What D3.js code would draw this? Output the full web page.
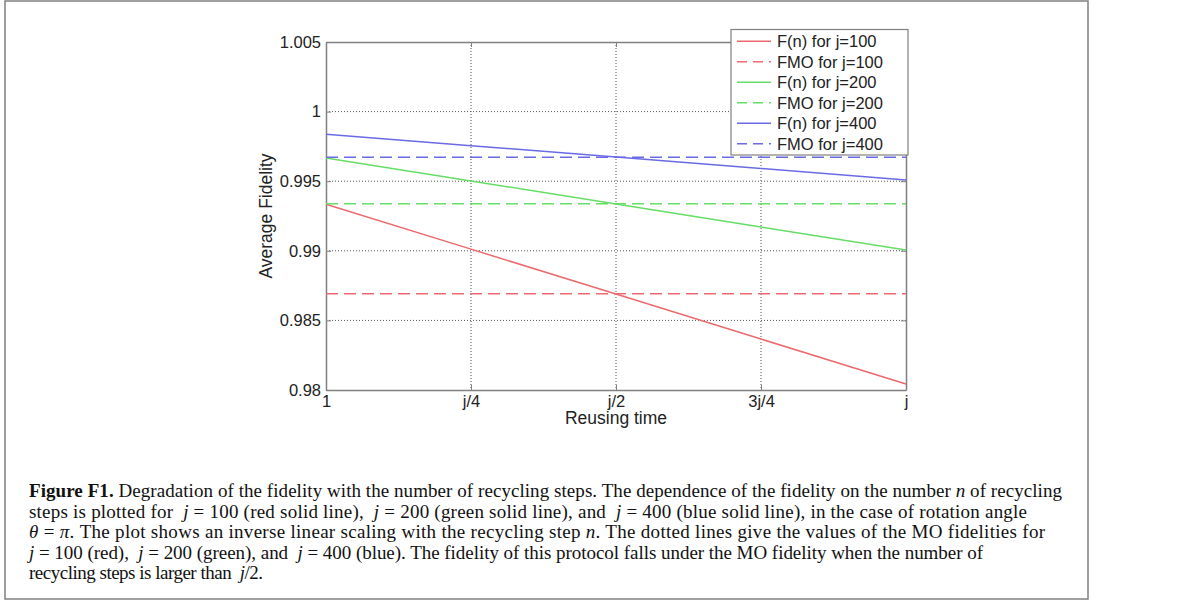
<!DOCTYPE html>
<html><head><meta charset="utf-8">
<script src="https://cdn.jsdelivr.net/npm/d3@7/dist/d3.min.js"></script>
<style>body{margin:0;background:#fff}svg{display:block}</style>
</head><body>
<script>
// ---- data ----
const xPositions = [0, 0.25, 0.5, 0.75, 1];
const xTickLabels = ["1", "j/4", "j/2", "3j/4", "j"];
const yTicks = [0.98, 0.985, 0.99, 0.995, 1, 1.005];
const yTickLabels = ["0.98", "0.985", "0.99", "0.995", "1", "1.005"];
const fn100 = [0.99335, 0.99012, 0.98689, 0.98366, 0.98043];
const fn200 = [0.99667, 0.99502, 0.99336, 0.99171, 0.99006];
const fn400 = [0.99837, 0.99755, 0.99673, 0.99591, 0.99509];
const fmo100 = [0.98692, 0.98692];
const fmo200 = [0.99338, 0.99338];
const fmo400 = [0.99672, 0.99672];
const fmoX = [0, 1];
const legendLabels = ["F(n) for j=100", "FMO for j=100", "F(n) for j=200", "FMO for j=200", "F(n) for j=400", "FMO for j=400"];

const W = 1179, H = 601;
const svg = d3.select("body").append("svg").attr("width", W).attr("height", H);

// outer frame
svg.append("rect").attr("x", 5).attr("y", 1).attr("width", 1083).attr("height", 598)
  .attr("fill", "none").attr("stroke", "#808080").attr("stroke-width", 1.5);

const L = 326, R = 906, T = 42, B = 390;
const x = d3.scaleLinear().domain([0, 1]).range([L, R]);
const y = d3.scaleLinear().domain([0.98, 1.005]).range([B, T]);

const g = svg.append("g");
// gridlines
g.selectAll(".gx").data(xPositions.slice(1, -1)).join("line")
  .attr("x1", d => x(d)).attr("x2", d => x(d)).attr("y1", T).attr("y2", B)
  .attr("stroke", "#555").attr("stroke-width", 1).attr("stroke-dasharray", "1,2");
g.selectAll(".gy").data(yTicks.slice(1, -1)).join("line")
  .attr("y1", d => y(d)).attr("y2", d => y(d)).attr("x1", L).attr("x2", R)
  .attr("stroke", "#555").attr("stroke-width", 1).attr("stroke-dasharray", "1,2");

// axes (MATLAB-like, inward ticks)
const fontAx = "'Liberation Sans', Arial, sans-serif";
const xAxis = d3.axisBottom(x).tickValues(xPositions).tickFormat((d, i) => xTickLabels[i]).tickSizeInner(-5).tickSizeOuter(0).tickPadding(8);
const yAxis = d3.axisLeft(y).tickValues(yTicks).tickFormat((d, i) => yTickLabels[i]).tickSizeInner(-5).tickSizeOuter(0).tickPadding(5);
const xa = svg.append("g").attr("transform", `translate(0,${B})`).call(xAxis);
const ya = svg.append("g").attr("transform", `translate(${L},0)`).call(yAxis);
const xt = svg.append("g").attr("transform", `translate(0,${T})`).call(d3.axisTop(x).tickValues(xPositions).tickFormat("").tickSizeInner(-5).tickSizeOuter(0));
const yr = svg.append("g").attr("transform", `translate(${R},0)`).call(d3.axisRight(y).tickValues(yTicks).tickFormat("").tickSizeInner(-5).tickSizeOuter(0));
[xa, ya, xt, yr].forEach(a => {
  a.select(".domain").attr("stroke", "#808080").attr("stroke-width", 1.5);
  a.selectAll(".tick line").attr("stroke", "#808080");
  a.selectAll("text").attr("font-family", fontAx).attr("font-size", 16.5).attr("fill", "#222");
});
xa.selectAll("text").attr("dy", "0.55em");

// axis titles
svg.append("text").attr("x", x(0.5)).attr("y", 424).attr("text-anchor", "middle")
  .attr("font-family", fontAx).attr("font-size", 17.5).attr("fill", "#222").text("Reusing time");
svg.append("text").attr("transform", `translate(272,${(T + B) / 2}) rotate(-90)`).attr("text-anchor", "middle")
  .attr("font-family", fontAx).attr("font-size", 17.5).attr("fill", "#222").text("Average Fidelity");

// series
const red = "#ec6a6f", green = "#66dd66", blue = "#6a6ae6";
const series = [
  { xs: xPositions, ys: fn100, c: red, dash: null },
  { xs: fmoX, ys: fmo100, c: red, dash: "12,6" },
  { xs: xPositions, ys: fn200, c: green, dash: null },
  { xs: fmoX, ys: fmo200, c: green, dash: "12,6" },
  { xs: xPositions, ys: fn400, c: blue, dash: null },
  { xs: fmoX, ys: fmo400, c: blue, dash: "12,6" }
];
const line = d3.line().x(d => x(d[0])).y(d => y(d[1]));
series.forEach(s => {
  svg.append("path").datum(s.xs.map((v, i) => [v, s.ys[i]]))
    .attr("d", line).attr("fill", "none").attr("stroke", s.c).attr("stroke-width", 1.5)
    .attr("stroke-dasharray", s.dash);
});

// legend
const lg = svg.append("g");
lg.append("rect").attr("x", 731).attr("y", 29.5).attr("width", 177).attr("height", 125.5)
  .attr("fill", "#fff").attr("stroke", "#808080").attr("stroke-width", 1.2);
legendLabels.forEach((lab, i) => {
  const yy = 41.3 + i * 20.5;
  lg.append("line").attr("x1", 737).attr("x2", 771).attr("y1", yy).attr("y2", yy)
    .attr("stroke", series[i].c).attr("stroke-width", 1.5).attr("stroke-dasharray", series[i].dash ? "10,6" : null);
  lg.append("text").attr("x", 777).attr("y", yy).attr("dy", "0.35em")
    .attr("font-family", fontAx).attr("font-size", 16.5).attr("fill", "#222").text(lab);
});

// caption
const serif = "'Liberation Serif', 'Times New Roman', serif";
const capLines = [
  { y: 497, end: 1062, parts: [["Figure F1.", "b"], [" Degradation of the fidelity with the number of recycling steps. The dependence of the fidelity on the number "], ["n", "i"], [" of recycling"]] },
  { y: 517.5, end: 1027, parts: [["steps is plotted for  "], ["j", "i"], [" = 100 (red solid line),  "], ["j", "i"], [" = 200 (green solid line), and  "], ["j", "i"], [" = 400 (blue solid line), in the case of rotation angle"]] },
  { y: 538, end: 1045, parts: [["θ", "i"], [" = "], ["π", "i"], [". The plot shows an inverse linear scaling with the recycling step "], ["n", "i"], [". The dotted lines give the values of the MO fidelities for"]] },
  { y: 558.5, end: 983, parts: [["j", "i"], [" = 100 (red),  "], ["j", "i"], [" = 200 (green), and  "], ["j", "i"], [" = 400 (blue). The fidelity of this protocol falls under the MO fidelity when the number of"]] },
  { y: 579, end: 263, parts: [["recycling steps is larger than  "], ["j", "i"], ["/2."]] }
];
const capTexts = capLines.map(cl => {
  const t = svg.append("text").attr("x", 29).attr("y", cl.y)
    .attr("font-family", serif).attr("font-size", 16).attr("fill", "#111")
    .attr("xml:space", "preserve").style("white-space", "pre");
  cl.parts.forEach(p => {
    const ts = t.append("tspan").text(p[0]);
    if (p[1] === "b") ts.attr("font-weight", "bold");
    if (p[1] === "i") ts.attr("font-style", "italic");
  });
  return t;
});
// pick a common font size so that the first line fits its measured width
const nat = capTexts[0].node().getComputedTextLength();
const fs = Math.min(19, 16 * (capLines[0].end - 29) / nat);
capTexts.forEach((t, i) => {
  t.attr("font-size", fs);
  const w = t.node().getComputedTextLength();
  const target = capLines[i].end - 29;
  if (Math.abs(w - target) > 2) t.attr("textLength", target).attr("lengthAdjust", "spacing");
});
</script>
</body></html>
